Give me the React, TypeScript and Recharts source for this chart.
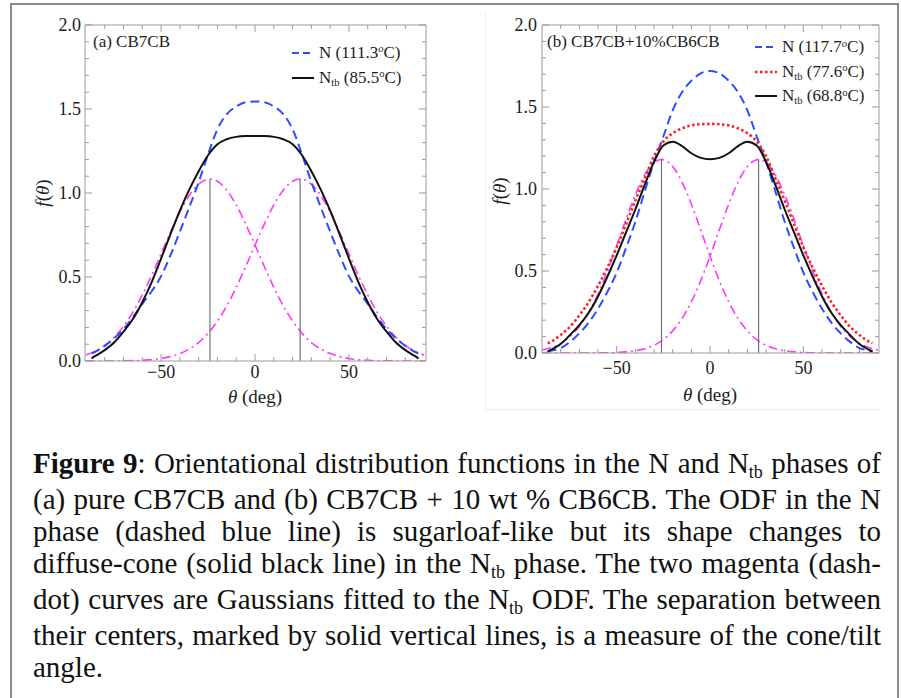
import type { CSSProperties, ReactNode } from "react";
import { Line, LineChart, XAxis, YAxis } from "recharts";

const FRAME = "#9a9a9a";
const INK = "#1c1c1c";
const BLUE = "#2f4bff";
const RED = "#ff2020";
const MAGENTA = "#ff38ff";
const BLACK = "#111111";
const GUIDE = "#707070";
const SERIF = '"Liberation Serif", "Times New Roman", serif';

// tick positions (minor + major); majors get a label
const X_TICKS = [-80, -70, -60, -50, -40, -30, -20, -10, 0, 10, 20, 30, 40, 50, 60, 70, 80];
const Y_TICKS = [
  0, 0.1, 0.2, 0.3, 0.4, 0.5, 0.6, 0.7, 0.8, 0.9, 1.0, 1.1, 1.2, 1.3, 1.4, 1.5, 1.6, 1.7, 1.8,
  1.9, 2.0,
];

// angle grid used for the measured ODFs
const THETA = [
  -87, -85, -80, -75, -70, -65, -60, -55, -50, -45, -40, -35, -30, -25, -20, -15, -10, -5, 0, 5,
  10, 15, 20, 25, 30, 35, 40, 45, 50, 55, 60, 65, 70, 75, 80, 85, 87,
];

// (a) CB7CB
const ODF_N_A = [
  0.045, 0.055, 0.09, 0.135, 0.19, 0.26, 0.34, 0.415, 0.505, 0.63, 0.77, 0.915, 1.065, 1.23,
  1.38, 1.47, 1.515, 1.54, 1.545, 1.54, 1.515, 1.47, 1.38, 1.23, 1.065, 0.915, 0.77, 0.63, 0.505,
  0.415, 0.34, 0.26, 0.19, 0.135, 0.09, 0.055, 0.045,
];
const ODF_NTB_A = [
  0.015, 0.03, 0.065, 0.11, 0.175, 0.25, 0.35, 0.47, 0.61, 0.755, 0.895, 1.02, 1.13, 1.225, 1.29,
  1.32, 1.334, 1.339, 1.34, 1.339, 1.334, 1.32, 1.29, 1.225, 1.13, 1.02, 0.895, 0.755, 0.61,
  0.47, 0.35, 0.25, 0.175, 0.11, 0.065, 0.03, 0.015,
];
const GAUSS_L_THETA_A = [
  -90, -85, -80, -75, -70, -65, -60, -55, -50, -45, -40, -35, -30, -24, -20, -15, -10, -5, 0, 5,
  10, 15, 20, 25, 30, 35, 40, 45, 50, 55, 60, 65, 70, 75, 80, 85, 90,
];
const GAUSS_L_A = [
  0.036, 0.059, 0.093, 0.141, 0.207, 0.29, 0.393, 0.51, 0.638, 0.767, 0.886, 0.985, 1.053, 1.083,
  1.07, 1.016, 0.929, 0.816, 0.69, 0.561, 0.438, 0.329, 0.238, 0.165, 0.11, 0.071, 0.044, 0.026,
  0.015, 0.008, 0.004, 0.002, 0.001, 0, 0, 0, 0,
];
const GAUSS_R_THETA_A = [
  -90, -85, -80, -75, -70, -65, -60, -55, -50, -45, -40, -35, -30, -25, -20, -15, -10, -5, 0, 5,
  10, 15, 20, 24, 30, 35, 40, 45, 50, 55, 60, 65, 70, 75, 80, 85, 90,
];
const GAUSS_R_A = [
  0, 0, 0, 0, 0.001, 0.002, 0.004, 0.008, 0.015, 0.026, 0.044, 0.071, 0.11, 0.165, 0.238, 0.329,
  0.438, 0.561, 0.69, 0.816, 0.929, 1.016, 1.07, 1.083, 1.053, 0.985, 0.886, 0.767, 0.638, 0.51,
  0.393, 0.29, 0.207, 0.141, 0.093, 0.059, 0.036,
];
const CENTERS_A = [-24, 24];
const CENTER_PEAK_A = 1.083;

// (b) CB7CB + 10% CB6CB
const ODF_N_B = [
  0.008, 0.015, 0.03, 0.068, 0.12, 0.185, 0.27, 0.372, 0.49, 0.64, 0.8, 0.985, 1.165, 1.32, 1.48,
  1.59, 1.66, 1.705, 1.72, 1.705, 1.66, 1.59, 1.48, 1.32, 1.165, 0.985, 0.8, 0.64, 0.49, 0.372,
  0.27, 0.185, 0.12, 0.068, 0.03, 0.015, 0.008,
];
const ODF_NTB77_B = [
  0.06, 0.07, 0.11, 0.16, 0.23, 0.31, 0.41, 0.52, 0.645, 0.785, 0.93, 1.065, 1.2, 1.29, 1.34, 1.37,
  1.388, 1.395, 1.397, 1.395, 1.388, 1.37, 1.34, 1.29, 1.2, 1.065, 0.93, 0.785, 0.645, 0.52, 0.41,
  0.31, 0.23, 0.16, 0.11, 0.07, 0.06,
];
const ODF_NTB68_B = [
  0.008, 0.02, 0.055, 0.11, 0.17, 0.245, 0.345, 0.465, 0.595, 0.735, 0.875, 1.025, 1.165, 1.265,
  1.288, 1.262, 1.218, 1.19, 1.182, 1.19, 1.218, 1.262, 1.288, 1.265, 1.165, 1.025, 0.875, 0.735,
  0.595, 0.465, 0.345, 0.245, 0.17, 0.11, 0.055, 0.02, 0.008,
];
const GAUSS_L_THETA_B = [
  -90, -85, -80, -75, -70, -65, -60, -55, -50, -45, -40, -35, -30, -26, -20, -15, -10, -5, 0, 5,
  10, 15, 20, 25, 30, 35, 40, 45, 50, 55, 60, 65, 70, 75, 80, 85, 90,
];
const GAUSS_L_B = [
  0.018, 0.033, 0.059, 0.101, 0.162, 0.248, 0.36, 0.498, 0.654, 0.815, 0.965, 1.086, 1.161, 1.18,
  1.137, 1.042, 0.908, 0.751, 0.59, 0.44, 0.312, 0.21, 0.135, 0.082, 0.047, 0.026, 0.014, 0.007,
  0.003, 0.001, 0, 0, 0, 0, 0, 0, 0,
];
const GAUSS_R_THETA_B = [
  -90, -85, -80, -75, -70, -65, -60, -55, -50, -45, -40, -35, -30, -25, -20, -15, -10, -5, 0, 5,
  10, 15, 20, 26, 30, 35, 40, 45, 50, 55, 60, 65, 70, 75, 80, 85, 90,
];
const GAUSS_R_B = [
  0, 0, 0, 0, 0, 0, 0, 0.001, 0.003, 0.007, 0.014, 0.026, 0.047, 0.082, 0.135, 0.21, 0.312, 0.44,
  0.59, 0.751, 0.908, 1.042, 1.137, 1.18, 1.161, 1.086, 0.965, 0.815, 0.654, 0.498, 0.36, 0.248,
  0.162, 0.101, 0.059, 0.033, 0.018,
];
const CENTERS_B = [-26, 26];
const CENTER_PEAK_B = 1.18;

type Pt = { x: number; f: number };
const pts = (theta: number[], f: number[]): Pt[] => theta.map((x, i) => ({ x, f: f[i] }));

type Curve = {
  key: string;
  data: Pt[];
  color: string;
  width: number;
  dash?: string;
};

type LegendItem = { color: string; width: number; dash?: string; label: ReactNode };

type PanelSpec = {
  left: number;
  width: number;
  height: number;
  margin: { top: number; right: number; bottom: number; left: number };
  xDomain: [number, number];
  xLabelGap: number;
  yLabelGap: number;
  gaussians: Curve[];
  curves: Curve[];
  centers: number[];
  centerPeak: number;
  title: string;
  titlePos: { x: number; y: number };
  yTitlePos: { x: number; y: number };
  xTitlePos: { x: number; y: number };
  legendPos: { x: number; y: number; row: number };
  legend: LegendItem[];
};

const deg = (o: "italic" | "normal") => (
  <span style={{ fontSize: "0.62em", position: "relative", top: "-0.5em", fontStyle: o }}>o</span>
);
const Ntb = () => (
  <>
    N<span style={{ fontSize: "0.62em", position: "relative", top: "0.3em" }}>tb</span>
  </>
);

const tickText: CSSProperties = { fontFamily: SERIF, fontSize: 18 };

const fmtX = (v: number) => (v < 0 ? `\u2212${-v}` : `${v}`);
const isMajorX = (v: number) => v % 50 === 0;
const isMajorY = (v: number) => Math.round(v * 10) % 5 === 0;

function CurveLine({ c }: { c: Curve }) {
  return (
    <Line
      data={c.data}
      dataKey="f"
      xAxisId="bottom"
      yAxisId="left"
      type="monotone"
      stroke={c.color}
      strokeWidth={c.width}
      strokeDasharray={c.dash}
      dot={false}
      isAnimationActive={false}
    />
  );
}

function Panel({ spec }: { spec: PanelSpec }) {
  const bottomTick = (p: any) => {
    const v = p.payload.value as number;
    const major = isMajorX(v);
    return (
      <g>
        <line x1={p.x} x2={p.x} y1={p.y} y2={p.y - (major ? 7 : 4)} stroke={FRAME} />
        {major && (
          <text x={p.x} y={p.y + spec.xLabelGap} textAnchor="middle" fill={INK} style={tickText}>
            {fmtX(v)}
          </text>
        )}
      </g>
    );
  };
  const topTick = (p: any) => {
    const major = isMajorX(p.payload.value);
    return <line x1={p.x} x2={p.x} y1={p.y} y2={p.y + (major ? 7 : 4)} stroke={FRAME} />;
  };
  const leftTick = (p: any) => {
    const v = p.payload.value as number;
    const major = isMajorY(v);
    return (
      <g>
        <line x1={p.x} x2={p.x + (major ? 7 : 4)} y1={p.y} y2={p.y} stroke={FRAME} />
        {major && (
          <text
            x={p.x - spec.yLabelGap}
            y={p.y}
            dy="0.34em"
            textAnchor="end"
            fill={INK}
            style={tickText}
          >
            {v.toFixed(1)}
          </text>
        )}
      </g>
    );
  };
  const rightTick = (p: any) => {
    const major = isMajorY(p.payload.value);
    return <line x1={p.x} x2={p.x - (major ? 7 : 4)} y1={p.y} y2={p.y} stroke={FRAME} />;
  };

  const axisCommon = {
    type: "number" as const,
    interval: 0 as const,
    allowDataOverflow: true,
    tickLine: false,
    tickSize: 0,
    tickMargin: 0,
    axisLine: { stroke: FRAME, strokeWidth: 1 },
  };

  return (
    <div
      style={{
        position: "absolute",
        left: spec.left,
        top: 0,
        width: spec.width,
        height: spec.height,
      }}
    >
      <LineChart width={spec.width} height={spec.height} margin={spec.margin}>
        <XAxis
          {...axisCommon}
          xAxisId="bottom"
          dataKey="x"
          orientation="bottom"
          domain={spec.xDomain}
          ticks={X_TICKS}
          height={50}
          tick={bottomTick}
        />
        <XAxis
          {...axisCommon}
          xAxisId="top"
          dataKey="x"
          orientation="top"
          domain={spec.xDomain}
          ticks={X_TICKS}
          height={20}
          tick={topTick}
        />
        <YAxis
          {...axisCommon}
          yAxisId="left"
          orientation="left"
          domain={[0, 2]}
          ticks={Y_TICKS}
          width={60}
          tick={leftTick}
        />
        <YAxis
          {...axisCommon}
          yAxisId="right"
          orientation="right"
          domain={[0, 2]}
          ticks={Y_TICKS}
          width={10}
          tick={rightTick}
        />
        {spec.gaussians.map((c) => (
          <CurveLine key={c.key} c={c} />
        ))}
        {spec.centers.map((c) => (
          <Line
            key={`center-${c}`}
            data={[
              { x: c, f: 0 },
              { x: c, f: spec.centerPeak },
            ]}
            dataKey="f"
            xAxisId="bottom"
            yAxisId="left"
            type="linear"
            stroke={GUIDE}
            strokeWidth={1.2}
            dot={false}
            isAnimationActive={false}
          />
        ))}
        {spec.curves.map((c) => (
          <CurveLine key={c.key} c={c} />
        ))}
      </LineChart>

      <div
        style={{
          position: "absolute",
          left: spec.titlePos.x,
          top: spec.titlePos.y - 10,
          fontSize: 17,
          lineHeight: "20px",
          color: INK,
          whiteSpace: "nowrap",
        }}
      >
        {spec.title}
      </div>

      <div
        style={{
          position: "absolute",
          left: spec.yTitlePos.x,
          top: spec.yTitlePos.y,
          transform: "translate(-50%, -50%) rotate(-90deg)",
          fontSize: 19,
          lineHeight: "22px",
          color: INK,
          whiteSpace: "nowrap",
        }}
      >
        <i>f</i>(<i>θ</i>)
      </div>

      <div
        style={{
          position: "absolute",
          left: spec.xTitlePos.x,
          top: spec.xTitlePos.y,
          transform: "translate(-50%, -50%)",
          fontSize: 19,
          lineHeight: "22px",
          color: INK,
          whiteSpace: "nowrap",
        }}
      >
        <i>θ</i> (deg)
      </div>

      <div style={{ position: "absolute", left: spec.legendPos.x, top: spec.legendPos.y }}>
        {spec.legend.map((item, i) => (
          <div
            key={i}
            style={{
              display: "flex",
              alignItems: "center",
              height: spec.legendPos.row,
              fontSize: 17,
              color: INK,
              whiteSpace: "nowrap",
            }}
          >
            <svg width={22} height={10} style={{ marginRight: 5 }}>
              <line
                x1={0}
                x2={22}
                y1={5}
                y2={5}
                stroke={item.color}
                strokeWidth={item.width}
                strokeDasharray={item.dash}
              />
            </svg>
            <span>{item.label}</span>
          </div>
        ))}
      </div>
    </div>
  );
}

const BLUE_DASH = "9 5";
const RED_DOT = "2.5 2.5";
const MAGENTA_DASH = "9 4 2 4";

const PANEL_A: PanelSpec = {
  left: 0,
  width: 450,
  height: 420,
  margin: { top: 5, right: 14, bottom: 9, left: 25 },
  xDomain: [-90.5, 91],
  xLabelGap: 17,
  yLabelGap: 4,
  gaussians: [
    { key: "gauss-l", data: pts(GAUSS_L_THETA_A, GAUSS_L_A), color: MAGENTA, width: 1.6, dash: MAGENTA_DASH },
    { key: "gauss-r", data: pts(GAUSS_R_THETA_A, GAUSS_R_A), color: MAGENTA, width: 1.6, dash: MAGENTA_DASH },
  ],
  curves: [
    { key: "n", data: pts(THETA, ODF_N_A), color: BLUE, width: 2, dash: BLUE_DASH },
    { key: "ntb", data: pts(THETA, ODF_NTB_A), color: BLACK, width: 2 },
  ],
  centers: CENTERS_A,
  centerPeak: CENTER_PEAK_A,
  title: "(a) CB7CB",
  titlePos: { x: 93, y: 42 },
  yTitlePos: { x: 43, y: 193 },
  xTitlePos: { x: 255, y: 397 },
  legendPos: { x: 292, y: 40, row: 25 },
  legend: [
    { color: BLUE, width: 2, dash: "7 4", label: <>N (111.3{deg("italic")}C)</> },
    { color: BLACK, width: 2, label: <><Ntb /> (85.5{deg("normal")}C)</> },
  ],
};

const PANEL_B: PanelSpec = {
  left: 450,
  width: 451,
  height: 420,
  margin: { top: 5, right: 12, bottom: 17, left: 32 },
  xDomain: [-90, 90.5],
  xLabelGap: 21,
  yLabelGap: 5,
  gaussians: [
    { key: "gauss-l", data: pts(GAUSS_L_THETA_B, GAUSS_L_B), color: MAGENTA, width: 1.6, dash: MAGENTA_DASH },
    { key: "gauss-r", data: pts(GAUSS_R_THETA_B, GAUSS_R_B), color: MAGENTA, width: 1.6, dash: MAGENTA_DASH },
  ],
  curves: [
    { key: "n", data: pts(THETA, ODF_N_B), color: BLUE, width: 2, dash: BLUE_DASH },
    { key: "ntb77", data: pts(THETA, ODF_NTB77_B), color: RED, width: 2.6, dash: RED_DOT },
    { key: "ntb68", data: pts(THETA, ODF_NTB68_B), color: BLACK, width: 2 },
  ],
  centers: CENTERS_B,
  centerPeak: CENTER_PEAK_B,
  title: "(b) CB7CB+10%CB6CB",
  titlePos: { x: 547 - 450, y: 42 },
  yTitlePos: { x: 500 - 450, y: 191 },
  xTitlePos: { x: 710 - 450, y: 395 },
  legendPos: { x: 755 - 450, y: 35, row: 24.5 },
  legend: [
    { color: BLUE, width: 2, dash: "7 4", label: <>N (117.7{deg("italic")}C)</> },
    { color: RED, width: 2.6, dash: "2.5 2.5", label: <><Ntb /> (77.6{deg("normal")}C)</> },
    { color: BLACK, width: 2, label: <><Ntb /> (68.8{deg("normal")}C)</> },
  ],
};

const CAPTION_LINES: ReactNode[] = [
  <>
    <b>Figure 9</b>: Orientational distribution functions in the N and <Ntb /> phases of
  </>,
  <>(a) pure CB7CB and (b) CB7CB + 10 wt % CB6CB. The ODF in the N</>,
  <>phase (dashed blue line) is sugarloaf-like but its shape changes to</>,
  <>
    diffuse-cone (solid black line) in the <Ntb /> phase. The two magenta (dash-
  </>,
  <>
    dot) curves are Gaussians fitted to the <Ntb /> ODF. The separation between
  </>,
  <>their centers, marked by solid vertical lines, is a measure of the cone/tilt</>,
  <>angle.</>,
];

export default function App() {
  return (
    <div
      style={{
        position: "absolute",
        left: 0,
        top: 0,
        width: 901,
        height: 698,
        overflow: "hidden",
        background: "#fff",
        fontFamily: SERIF,
      }}
    >
      <div
        style={{
          position: "absolute",
          left: 10,
          top: 3,
          width: 889,
          height: 760,
          boxSizing: "border-box",
          border: "2px solid #8c8c8c",
        }}
      />
      <div
        style={{
          position: "absolute",
          left: 485,
          top: 13,
          width: 395,
          height: 397,
          boxSizing: "border-box",
          borderLeft: "1px solid #ececec",
          borderBottom: "1px solid #ececec",
        }}
      />
      <Panel spec={PANEL_A} />
      <Panel spec={PANEL_B} />
      <div
        style={{
          position: "absolute",
          left: 33,
          top: 447,
          width: 848,
          fontSize: 29,
          lineHeight: "32px",
          color: "#111",
        }}
      >
        {CAPTION_LINES.map((line, i) => (
          <div
            key={i}
            style={{
              textAlign: "justify",
              textAlignLast: i === CAPTION_LINES.length - 1 ? "left" : "justify",
            }}
          >
            {line}
          </div>
        ))}
      </div>
    </div>
  );
}
